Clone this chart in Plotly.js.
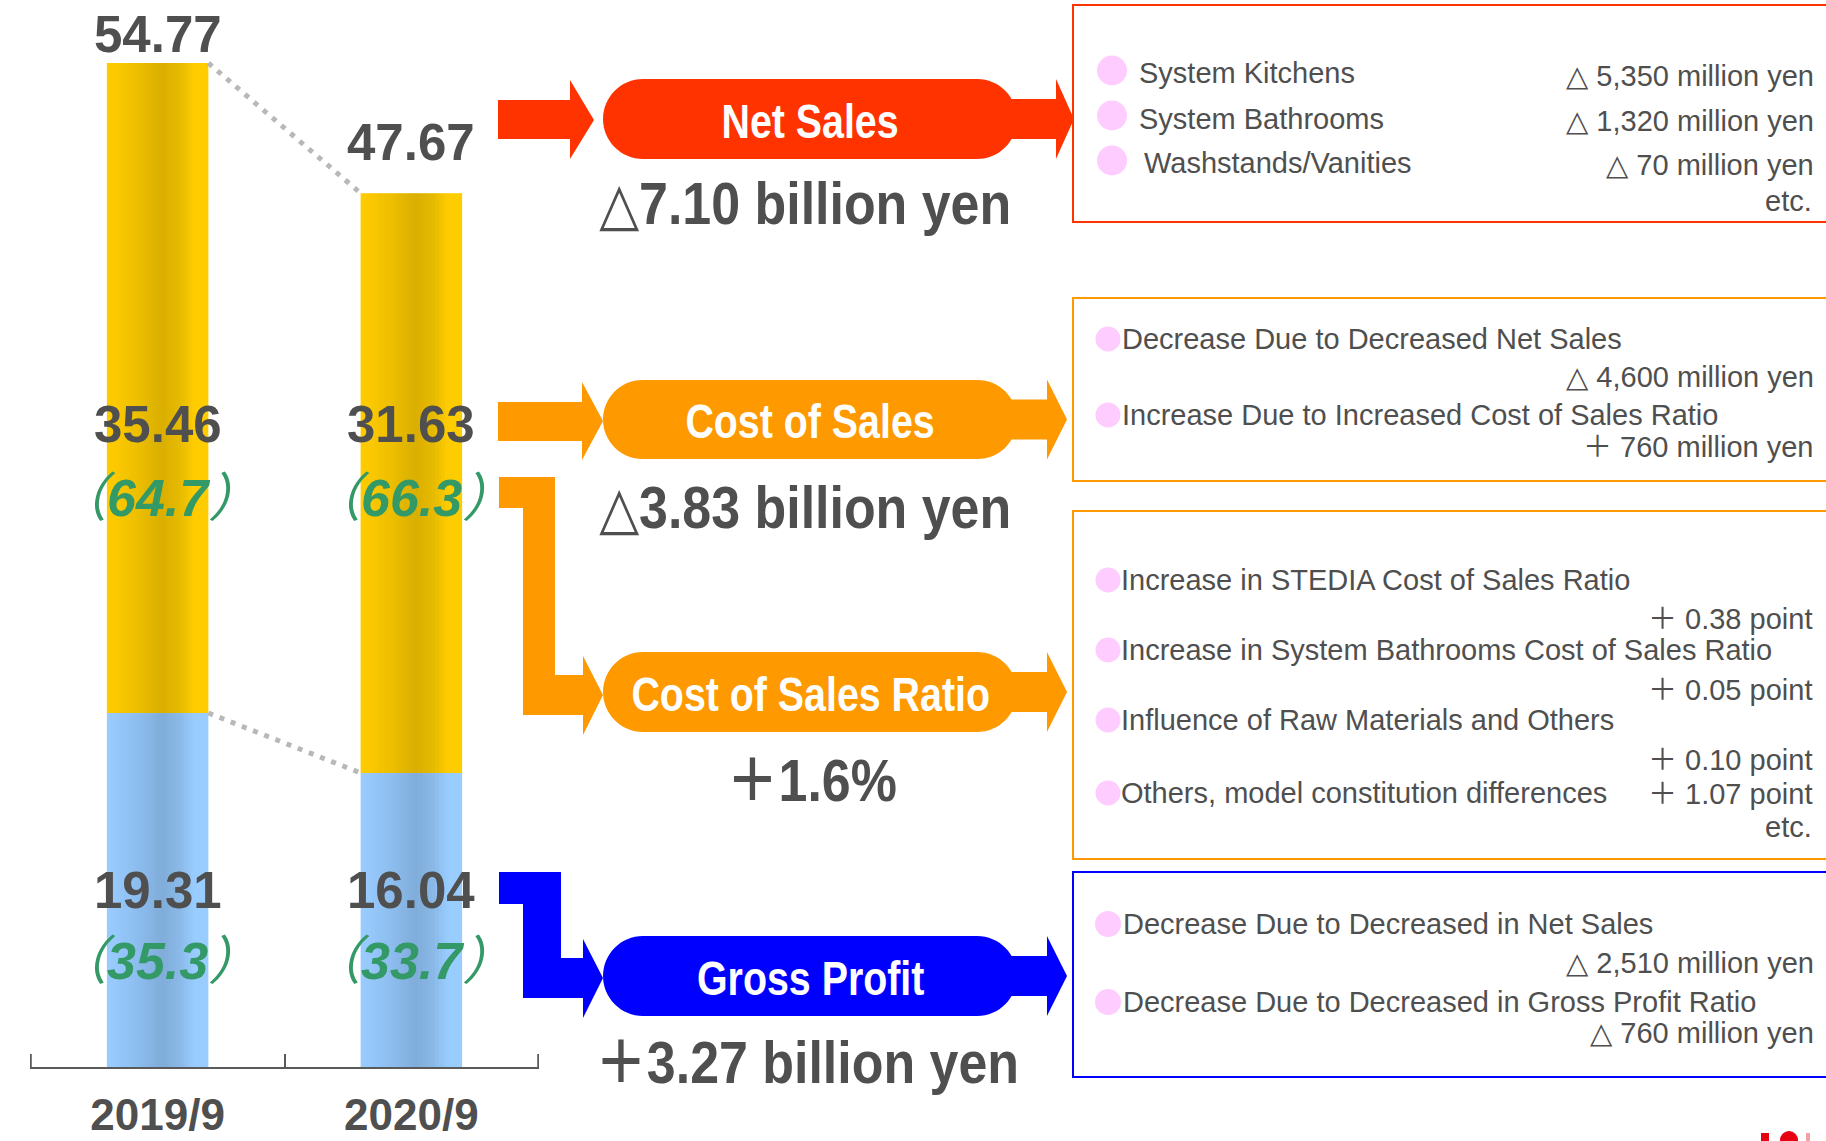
<!DOCTYPE html>
<html><head><meta charset="utf-8">
<script src="https://cdn.plot.ly/plotly-3.0.1.min.js"></script>
<style>html,body{margin:0;padding:0;background:#fff;}#chart{width:1826px;height:1141px;}</style>
</head><body><div id="chart"></div>
<script>
// ---------- DATA ----------
const periods = ['2019/9', '2020/9'];
const netSales = [54.77, 47.67];
const costOfSales = [35.46, 31.63];
const grossProfit = [19.31, 16.04];
const costRatio = [64.7, 66.3];
const grossRatio = [35.3, 33.7];

const changeTitles = ['Net Sales', 'Cost of Sales', 'Cost of Sales Ratio', 'Gross Profit'];
const changeValues = ['△7.10 billion yen', '△3.83 billion yen', '＋1.6%', '＋3.27 billion yen'];

const netSalesItems = ['System Kitchens', 'System Bathrooms', 'Washstands/Vanities'];
const netSalesAmounts = ['△ 5,350 million yen', '△ 1,320 million yen', '△ 70 million yen'];
const costItems = ['Decrease Due to Decreased Net Sales', 'Increase Due to Increased Cost of Sales Ratio'];
const costAmounts = ['△ 4,600 million yen', '＋ 760 million yen'];
const ratioItems = ['Increase in STEDIA Cost of Sales Ratio', 'Increase in System Bathrooms Cost of Sales Ratio',
  'Influence of Raw Materials and Others', 'Others, model constitution differences'];
const ratioAmounts = ['＋ 0.38 point', '＋ 0.05 point', '＋ 0.10 point', '＋ 1.07 point'];
const grossItems = ['Decrease Due to Decreased in Net Sales', 'Decrease Due to Decreased in Gross Profit Ratio'];
const grossAmounts = ['△ 2,510 million yen', '△ 760 million yen'];

// ---------- STYLE / GEOMETRY ----------
const W = 1826, H = 1141;
const X = p => p / W, Y = p => 1 - p / H;
const GRAY = '#4f4f4f', GREEN = '#339966';
const RED = '#ff3300', ORANGE = '#ff9900', BLUE = '#0000ff', PINK = '#ffccff';
const SANS = '"Liberation Sans", Arial, "DejaVu Sans", "Noto Sans CJK JP", sans-serif';
const narrowTexts = new Map();   // text -> horizontal condense factor

function hex(c){return [parseInt(c.slice(1,3),16),parseInt(c.slice(3,5),16),parseInt(c.slice(5,7),16)];}
function grad(stops, t){
  for (let i=0;i<stops.length-1;i++){
    const [t0,c0]=stops[i],[t1,c1]=stops[i+1];
    if (t>=t0 && t<=t1){
      const f=(t-t0)/(t1-t0), a=hex(c0), b=hex(c1);
      return 'rgb('+a.map((v,k)=>Math.round(v+(b[k]-v)*f)).join(',')+')';
    }
  }
  return stops[stops.length-1][1];
}
const goldStops = [[0,'#ffcc00'],[0.1,'#fbc800'],[0.32,'#ebbe00'],[0.54,'#d9ae00'],[0.72,'#e6ba00'],[0.86,'#ffcc00'],[1,'#ffcc00']];
const blueStops = [[0,'#99ccff'],[0.1,'#96c8fb'],[0.32,'#8cbcee'],[0.54,'#80acd9'],[0.72,'#8ab9e8'],[0.86,'#99ccff'],[1,'#99ccff']];

const BW = 0.40, N = 30;
const traces = [];
for (let i = 0; i < N; i++) {
  const t = (i + 0.5) / N;
  const off = -BW / 2 + i * BW / N;
  const w = BW / N + (i < N - 1 ? 0.003 : 0);
  traces.push({type:'bar', x: periods, y: grossProfit, base: [0,0], offset: off, width: w,
    marker:{color: grad(blueStops,t), line:{width:0}}, hoverinfo:'skip', showlegend:false});
  traces.push({type:'bar', x: periods, y: costOfSales, base: grossProfit, offset: off, width: w,
    marker:{color: grad(goldStops,t), line:{width:0}}, hoverinfo:'skip', showlegend:false});
}

const shapes = [];
const annotations = [];

// dotted connectors between bars (data coordinates)
shapes.push({type:'line', xref:'x', yref:'y', x0: BW/2, x1: 1-BW/2, y0: netSales[0], y1: netSales[1],
  line:{color:'#b8b8b8', width:5, dash:'5px,7px'}});
shapes.push({type:'line', xref:'x', yref:'y', x0: BW/2, x1: 1-BW/2, y0: grossProfit[0], y1: grossProfit[1],
  line:{color:'#b8b8b8', width:5, dash:'5px,7px'}});
// end ticks of the category axis (category boundaries)
[-0.5, 1.5].forEach(b => shapes.push({type:'line', xref:'x', yref:'paper', x0:b, x1:b, y0:Y(1067), y1:Y(1054),
  line:{color:'#5a5a5a', width:2}}));

// bar value labels
const PAREN = s => '<span style="font-family:Noto Sans CJK JP;font-weight:normal">' + s + '</span>';
const totalLabelY = [34, 142];
const numFont = {family:SANS, size:51, color:GRAY, weight:'bold'};
const pctFont = {family:SANS, size:52, color:GREEN, weight:'bold', style:'italic'};
periods.forEach((p, i) => {
  annotations.push({xref:'x', yref:'paper', x: p, y: Y(totalLabelY[i]), text: netSales[i].toFixed(2),
    showarrow:false, xanchor:'center', yanchor:'middle', font:numFont});
  annotations.push({xref:'x', yref:'paper', x: p, y: Y(425), text: costOfSales[i].toFixed(2),
    showarrow:false, xanchor:'center', yanchor:'middle', font:numFont});
  annotations.push({xref:'x', yref:'paper', x: p, y: Y(493), text: PAREN('（') + costRatio[i].toFixed(1) + PAREN('）'),
    showarrow:false, xanchor:'center', yanchor:'middle', font:pctFont});
  annotations.push({xref:'x', yref:'paper', x: p, y: Y(890), text: grossProfit[i].toFixed(2),
    showarrow:false, xanchor:'center', yanchor:'middle', font:numFont});
  annotations.push({xref:'x', yref:'paper', x: p, y: Y(957), text: PAREN('（') + grossRatio[i].toFixed(1) + PAREN('）'),
    showarrow:false, xanchor:'center', yanchor:'middle', font:pctFont});
});

// helpers for decorative paths in pixel space
function poly(pts){ return pts.map((p,i)=>(i?'L':'M')+X(p[0]).toFixed(5)+','+Y(p[1]).toFixed(5)).join(' ')+' Z'; }
function pill(x0,x1,y0,y1){
  const r=(y1-y0)/2, cy=(y0+y1)/2, k=0.5523*r;
  const P=(x,y)=>X(x).toFixed(5)+','+Y(y).toFixed(5);
  return 'M'+P(x0+r,y0)+' L'+P(x1-r,y0)+' C'+P(x1-r+k,y0)+' '+P(x1,cy-k)+' '+P(x1,cy)+
    ' C'+P(x1,cy+k)+' '+P(x1-r+k,y1)+' '+P(x1-r,y1)+' L'+P(x0+r,y1)+
    ' C'+P(x0+r-k,y1)+' '+P(x0,cy+k)+' '+P(x0,cy)+' C'+P(x0,cy-k)+' '+P(x0+r-k,y0)+' '+P(x0+r,y0)+' Z';
}
function addPath(d, color){ shapes.push({type:'path', xref:'paper', yref:'paper', path:d, fillcolor:color, line:{width:0}, layer:'above'}); }
function rightArrow(cy, tailX0, baseX, tipX, color){
  addPath(poly([[tailX0,cy-20],[baseX,cy-20],[baseX,cy-40],[tipX,cy],[baseX,cy+40],[baseX,cy+20],[tailX0,cy+20]]), color);
}

// left arrows
addPath(poly([[498,100],[570,100],[570,80],[594,120],[570,159],[570,139],[498,139]]), RED);
addPath(poly([[498,402],[582,402],[582,382],[603,421],[582,460],[582,441],[498,441]]), ORANGE);
addPath(poly([[499,477],[555,477],[555,675],[583,675],[583,656],[603,695],[583,735],[583,715],[523,715],[523,508],[499,508]]), ORANGE);
addPath(poly([[499,872],[561,872],[561,958],[583,958],[583,939],[603,978],[583,1018],[583,998],[523,998],[523,904],[499,904]]), BLUE);

// pills + right arrows
const pillY = [[79,159],[380,459],[652,732],[936,1016]];
const pillColors = [RED, ORANGE, ORANGE, BLUE];
pillY.forEach((py,i)=>{
  const cy=(py[0]+py[1])/2;
  if (i===0) rightArrow(cy, 1000, 1056, 1074, pillColors[i]);
  else rightArrow(cy, 1000, 1047, 1067, pillColors[i]);
  addPath(pill(603,1017,py[0],py[1]), pillColors[i]);
  narrowTexts.set(changeTitles[i], 0.82);
  annotations.push({xref:'paper', yref:'paper', x:X(810), y:Y(cy+2), text: changeTitles[i], showarrow:false,
    xanchor:'center', yanchor:'middle', font:{family:SANS, size:48, color:'#ffffff', weight:'bold'}});
});
const valueY = [204, 508, 781, 1063];
const valueX = [805, 805, 811, 807];
changeValues.forEach((v,i)=>{
  narrowTexts.set(v, 0.88);
  annotations.push({xref:'paper', yref:'paper', x:X(valueX[i]), y:Y(valueY[i]), text:v, showarrow:false,
    xanchor:'center', yanchor:'middle', font:{family:SANS, size:59, color:GRAY, weight:'bold'}});
});

// right-side boxes
function box(y0,y1,color){ shapes.push({type:'rect', xref:'paper', yref:'paper', x0:X(1073), x1:X(1840), y0:Y(y0), y1:Y(y1),
  line:{color:color, width:2}, fillcolor:'rgba(0,0,0,0)', layer:'above'}); }
box(5,222,RED); box(298,481,ORANGE); box(511,859,ORANGE); box(872,1077,BLUE);

function dot(cx,cy,d){ shapes.push({type:'circle', xref:'paper', yref:'paper', x0:X(cx-d/2), x1:X(cx+d/2), y0:Y(cy-d/2), y1:Y(cy+d/2),
  fillcolor:PINK, line:{width:0}, layer:'above'}); }
const boxFont = {family:SANS, size:29, color:GRAY};
function leftText(t,x,y){ annotations.push({xref:'paper', yref:'paper', x:X(x), y:Y(y), text:t, showarrow:false,
  xanchor:'left', yanchor:'middle', font:boxFont}); }
function rightText(t,x,y){ annotations.push({xref:'paper', yref:'paper', x:X(x), y:Y(y), text:t, showarrow:false,
  xanchor:'right', yanchor:'middle', font:boxFont}); }

// Net sales box
const nsDotY=[70.5,115.5,160.5], nsTextY=[73,119,163], nsAmtY=[76,121,165], nsTextX=[1137,1137,1142];
netSalesItems.forEach((t,i)=>{ dot(1112,nsDotY[i],30); leftText(t,nsTextX[i],nsTextY[i]); rightText(netSalesAmounts[i],1816,nsAmtY[i]); });
rightText('etc.',1814,201);
// Cost of sales box
const csY=[339,415], csAmtY=[377,447];
costItems.forEach((t,i)=>{ dot(1108,csY[i],25); leftText(t,1120,csY[i]); rightText(costAmounts[i],1816,csAmtY[i]); });
// Ratio box
const rtY=[580,650,720,793], rtAmtY=[619,690,760,794];
ratioItems.forEach((t,i)=>{ dot(1108,rtY[i],25); leftText(t,1119,rtY[i]); rightText(ratioAmounts[i],1814,rtAmtY[i]); });
rightText('etc.',1814,827);
// Gross box
const gpY=[924,1002], gpAmtY=[963,1033];
grossItems.forEach((t,i)=>{ dot(1108,gpY[i],26); leftText(t,1121,gpY[i]); rightText(grossAmounts[i],1816,gpAmtY[i]); });

// tiny logo fragment bottom right
shapes.push({type:'circle', xref:'paper', yref:'paper', x0:X(1780), x1:X(1798), y0:Y(1131), y1:Y(1149), fillcolor:'#e60012', line:{width:0}});
shapes.push({type:'rect', xref:'paper', yref:'paper', x0:X(1761), x1:X(1769), y0:Y(1133), y1:Y(1141), fillcolor:'#e60012', line:{width:0}});
shapes.push({type:'rect', xref:'paper', yref:'paper', x0:X(1806), x1:X(1810), y0:Y(1133), y1:Y(1141), fillcolor:'#f4a0a8', line:{width:0}});

const layout = {
  width: W, height: H, margin:{l:0,r:0,t:0,b:0}, paper_bgcolor:'#fff', plot_bgcolor:'#fff',
  barmode:'overlay', showlegend:false, hovermode:false,
  xaxis:{domain:[30/W, 539/W], type:'category', range:[-0.503,1.503], fixedrange:true,
    showline:true, linecolor:'#5a5a5a', linewidth:2, ticks:'inside', tickson:'boundaries', ticklen:13, tickwidth:2, tickcolor:'#5a5a5a',
    showgrid:false, zeroline:false, tickfont:{family:SANS, size:44, color:GRAY, weight:'bold'}, ticklabelstandoff:8},
  yaxis:{domain:[74/H, 1], range:[0, 58.21], visible:false, showgrid:false, zeroline:false, fixedrange:true},
  shapes: shapes, annotations: annotations
};
Plotly.newPlot('chart', traces, layout, {displayModeBar:false, staticPlot:true}).then(() => {
  // horizontally condense the bold headline texts (narrow bold face in the original)
  document.querySelectorAll('#chart .annotation-text').forEach(el => {
    const f = narrowTexts.get(el.textContent);
    if (!f) return;
    const bb = el.getBBox();
    const cx = bb.x + bb.width / 2;
    const prev = el.getAttribute('transform') || '';
    el.setAttribute('transform', prev + ' translate(' + cx + ',0) scale(' + f + ',1) translate(' + (-cx) + ',0)');
  });
});
</script></body></html>
